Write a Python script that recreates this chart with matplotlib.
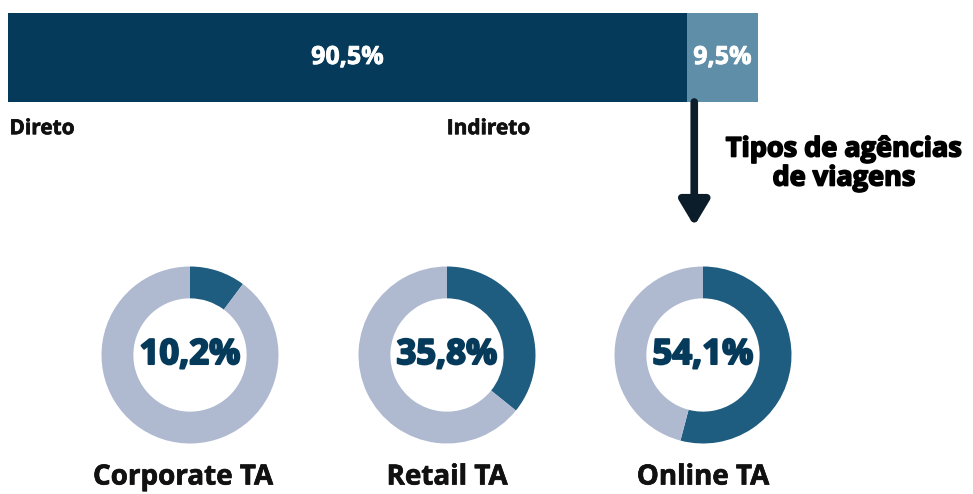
import matplotlib
matplotlib.use("Agg")
import matplotlib.pyplot as plt
import matplotlib.patheffects as pe

plt.rcParams['font.family'] = ['Open Sans', 'DejaVu Sans']

# canal de venda
canais = ['Direto', 'Indireto']
canal_vals = [90.5, 9.5]
canal_cores = ['#053a5a', '#5f8ea8']

# tipos de agencias (parte do canal indireto)
tipos = ['Corporate TA', 'Retail TA', 'Online TA']
tipo_vals = [10.2, 35.8, 54.1]

W, H = 973, 494
fig = plt.figure(figsize=(W / 100, H / 100), dpi=100)

def box(x0, y0, x1, y1):
    # pixel box (top-left origin) -> figure fraction
    return [x0 / W, 1 - y1 / H, (x1 - x0) / W, (y1 - y0) / H]

def grosso(cor, lw=1.0):
    # simula o peso extra-bold
    return [pe.withStroke(linewidth=lw, foreground=cor)]

# barra empilhada
ax = fig.add_axes(box(8, 13, 758, 102))
left = 0
for nome, v, c in zip(canais, canal_vals, canal_cores):
    ax.barh(0, v, left=left, height=1, color=c)
    ax.text(left + v / 2, 0, f'{v:.1f}%'.replace('.', ','), ha='center', va='center',
            color='white', fontsize=18, fontweight='bold', path_effects=grosso('white', 0.6))
    left += v
ax.set_xlim(0, sum(canal_vals))
ax.set_ylim(-0.5, 0.5)
ax.axis('off')

ax.text(0.2, -0.8, canais[0], ha='left', va='center',
        fontsize=15, fontweight='bold', color='#111111', path_effects=grosso('#111111', 0.5))
ax.text(58.5, -0.8, canais[1], ha='left', va='center',
        fontsize=15, fontweight='bold', color='#111111', path_effects=grosso('#111111', 0.5))

# seta
ax.annotate('', xy=(91.5, -0.5 - 124 / 89), xytext=(91.5, -0.5),
            arrowprops=dict(arrowstyle='-|>,head_width=0.9,head_length=1.5',
                            color='#0b1d2a', lw=5.5, shrinkA=0, shrinkB=0),
            annotation_clip=False)

fig.text(844 / W, 1 - 164 / H, 'Tipos de agências\nde viagens', ha='center', va='center',
         fontsize=19.5, fontweight='bold', color='#000000', linespacing=1.15,
         path_effects=grosso('#000000', 1.2))

# donuts
centros = [190, 447, 703]
r = 88.5
for nome, v, cx in zip(tipos, tipo_vals, centros):
    axd = fig.add_axes(box(cx - r, 355 - r, cx + r, 355 + r))
    axd.pie([v, 100 - v], colors=['#1f5d80', '#afbad1'], startangle=90,
            counterclock=False, radius=1, wedgeprops=dict(width=0.36, linewidth=0))
    axd.set_xlim(-1, 1)
    axd.set_ylim(-1, 1)
    axd.text(0, 0, f'{v:.1f}%'.replace('.', ','), ha='center', va='center',
             fontsize=25, fontweight='bold', color='#053a5a', path_effects=grosso('#053a5a', 1.5))
    lx = cx - 7 if nome == 'Corporate TA' else cx
    fig.text(lx / W, 1 - 477 / H, nome, ha='center', va='center',
             fontsize=20, fontweight='bold', color='#111111', path_effects=grosso('#111111', 0.5))

fig.savefig('out.png', dpi=100)
